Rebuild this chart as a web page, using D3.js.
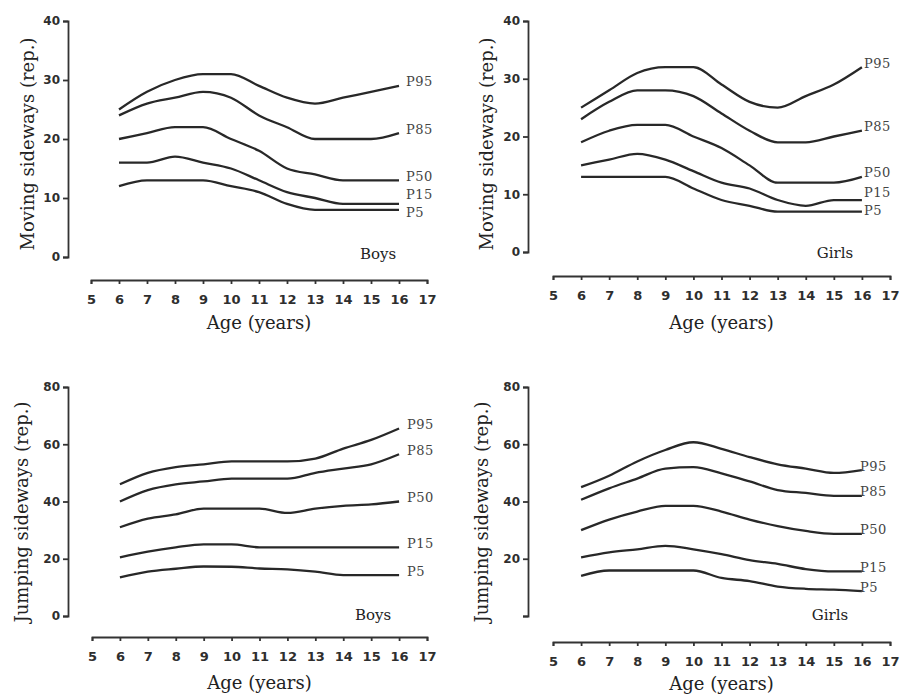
<!DOCTYPE html>
<html>
<head>
<meta charset="utf-8">
<script src="https://cdn.jsdelivr.net/npm/d3@7"></script>
<style>
  html, body { margin: 0; padding: 0; background: #fff; }
  svg { display: block; }
  .tick text { font-family: "DejaVu Sans", sans-serif; font-weight: bold; fill: #2e2e2e; }
  .domain, .tick line { stroke: #333; stroke-width: 1.8; }
</style>
</head>
<body>
<svg id="chart" width="900" height="699"></svg>
<script>
// ---------- DATA ----------
const ages = [6, 7, 8, 9, 10, 11, 12, 13, 14, 15, 16];
const xTicks = [5, 6, 7, 8, 9, 10, 11, 12, 13, 14, 15, 16, 17];
const percentiles = ["P95", "P85", "P50", "P15", "P5"];

// Moving sideways – Boys
const movBoysP95 = [25, 28, 30, 31, 31, 29, 27, 26, 27, 28, 29];
const movBoysP85 = [24, 26, 27, 28, 27, 24, 22, 20, 20, 20, 21];
const movBoysP50 = [20, 21, 22, 22, 20, 18, 15, 14, 13, 13, 13];
const movBoysP15 = [16, 16, 17, 16, 15, 13, 11, 10, 9, 9, 9];
const movBoysP5  = [12, 13, 13, 13, 12, 11, 9, 8, 8, 8, 8];

// Moving sideways – Girls
const movGirlsP95 = [25, 28, 31, 32, 32, 29, 26, 25, 27, 29, 32];
const movGirlsP85 = [23, 26, 28, 28, 27, 24, 21, 19, 19, 20, 21];
const movGirlsP50 = [19, 21, 22, 22, 20, 18, 15, 12, 12, 12, 13];
const movGirlsP15 = [15, 16, 17, 16, 14, 12, 11, 9, 8, 9, 9];
const movGirlsP5  = [13, 13, 13, 13, 11, 9, 8, 7, 7, 7, 7];

// Jumping sideways – Boys
const jumpBoysP95 = [46, 50, 52, 53, 54, 54, 54, 55, 58.5, 61.5, 65.5];
const jumpBoysP85 = [40, 44, 46, 47, 48, 48, 48, 50, 51.5, 53, 56.5];
const jumpBoysP50 = [31, 34, 35.5, 37.5, 37.5, 37.5, 36, 37.5, 38.5, 39, 40];
const jumpBoysP15 = [20.5, 22.5, 24, 25, 25, 24, 24, 24, 24, 24, 24];
const jumpBoysP5  = [13.5, 15.5, 16.5, 17.3, 17.2, 16.6, 16.3, 15.5, 14.3, 14.3, 14.3];

// Jumping sideways – Girls
const jumpGirlsP95 = [45, 49, 54, 58, 60.7, 58.4, 55.5, 53, 51.5, 50, 51];
const jumpGirlsP85 = [40.6, 44.6, 48, 51.5, 52, 49.8, 47, 44, 43, 42, 42];
const jumpGirlsP50 = [30, 33.7, 36.5, 38.5, 38.5, 36.5, 33.7, 31.4, 29.7, 28.7, 28.7];
const jumpGirlsP15 = [20.5, 22.2, 23.3, 24.5, 23.3, 21.6, 19.5, 18.2, 16.4, 15.6, 15.6];
const jumpGirlsP5  = [14, 15.9, 15.9, 15.9, 15.9, 13.3, 12.2, 10.3, 9.5, 9.2, 8.7];

const yTicksMov = [0, 10, 20, 30, 40];
const yTicksJump = [0, 20, 40, 60, 80];

// ---------- PANEL LAYOUT ----------
const panels = [
  { series: [movBoysP95, movBoysP85, movBoysP50, movBoysP15, movBoysP5],
    ymax: 40, yTicks: yTicksMov, showZero: true,
    yAxisX: 68, yTop: 21, yBot: 257, xAxisY: 280, x0: 91, x1: 427,
    yTitle: "Moving sideways (rep.)", yTitleX: 28, yTitleCY: 144,
    xTitleY: 329, group: "Boys", gx: 378, gy: 259, labX: 406 },
  { series: [movGirlsP95, movGirlsP85, movGirlsP50, movGirlsP15, movGirlsP5],
    ymax: 40, yTicks: yTicksMov, showZero: true,
    yAxisX: 528, yTop: 21, yBot: 252, xAxisY: 276, x0: 553, x1: 890,
    yTitle: "Moving sideways (rep.)", yTitleX: 487, yTitleCY: 144,
    xTitleY: 329, group: "Girls", gx: 835, gy: 258, labX: 864 },
  { series: [jumpBoysP95, jumpBoysP85, jumpBoysP50, jumpBoysP15, jumpBoysP5],
    ymax: 80, yTicks: yTicksJump, showZero: true,
    yAxisX: 68, yTop: 387, yBot: 616, xAxisY: 637, x0: 92, x1: 427,
    yTitle: "Jumping sideways (rep.)", yTitleX: 22, yTitleCY: 512,
    xTitleY: 689, group: "Boys", gx: 373, gy: 620, labX: 407 },
  { series: [jumpGirlsP95, jumpGirlsP85, jumpGirlsP50, jumpGirlsP15, jumpGirlsP5],
    ymax: 80, yTicks: yTicksJump, showZero: false,
    yAxisX: 528, yTop: 387, yBot: 616, xAxisY: 642, x0: 553, x1: 890,
    yTitle: "Jumping sideways (rep.)", yTitleX: 482, yTitleCY: 512,
    xTitleY: 690, group: "Girls", gx: 830, gy: 620, labX: 860 }
];

const svg = d3.select("#chart");
const lineColor = "#282828";

panels.forEach(p => {
  const g = svg.append("g");
  const x = d3.scaleLinear().domain([5, 17]).range([p.x0, p.x1]);
  const y = d3.scaleLinear().domain([0, p.ymax]).range([p.yBot, p.yTop]);

  // y axis
  const ya = d3.axisLeft(y).tickValues(p.yTicks).tickSize(5).tickPadding(3)
    .tickFormat(d => (d === 0 && !p.showZero) ? "" : d);
  g.append("g").attr("transform", `translate(${p.yAxisX},0)`).call(ya)
    .selectAll("text").style("font-size", "12px");

  // x axis (detached)
  const xa = d3.axisBottom(x).tickValues(xTicks).tickSize(4).tickPadding(11).tickFormat(d3.format("d"));
  g.append("g").attr("transform", `translate(0,${p.xAxisY})`).call(xa)
    .selectAll("text").style("font-size", "13px");

  // lines
  const line = d3.line().x((d, i) => x(ages[i])).y(d => y(d)).curve(d3.curveMonotoneX);
  p.series.forEach(s => {
    g.append("path").attr("d", line(s))
      .attr("fill", "none").attr("stroke", lineColor)
      .attr("stroke-width", 2.3).attr("stroke-linejoin", "round");
  });

  // percentile labels with simple dodge
  const labs = p.series.map((s, i) => ({ t: percentiles[i], y: y(s[s.length - 1]) - 4 }));
  labs.sort((a, b) => a.y - b.y);
  for (let it = 0; it < 50; it++) {
    for (let i = 1; i < labs.length; i++) {
      const gap = labs[i].y - labs[i - 1].y;
      if (gap < 18) {
        const m = (18 - gap) / 2;
        labs[i].y += m; labs[i - 1].y -= m;
      }
    }
  }
  labs.forEach(l => {
    g.append("text").attr("x", p.labX).attr("y", l.y).attr("dy", "0.35em")
      .attr("font-family", "DejaVu Serif, serif").attr("font-size", 13)
      .attr("letter-spacing", 0.5).attr("fill", "#444").text(l.t);
  });

  // group label
  g.append("text").attr("x", p.gx).attr("y", p.gy).attr("text-anchor", "middle")
    .attr("font-family", "DejaVu Serif, serif").attr("font-size", 15)
    .attr("fill", "#222").text(p.group);

  // x title
  g.append("text").attr("x", (p.x0 + p.x1) / 2).attr("y", p.xTitleY).attr("text-anchor", "middle")
    .attr("font-family", "DejaVu Serif, serif").attr("font-size", 18)
    .attr("fill", "#222").text("Age (years)");

  // y title
  g.append("text").attr("transform", `translate(${p.yTitleX},${p.yTitleCY}) rotate(-90)`)
    .attr("text-anchor", "middle").attr("dy", "0.35em")
    .attr("font-family", "DejaVu Serif, serif").attr("font-size", 18)
    .attr("fill", "#222").text(p.yTitle);
});
</script>
</body>
</html>
